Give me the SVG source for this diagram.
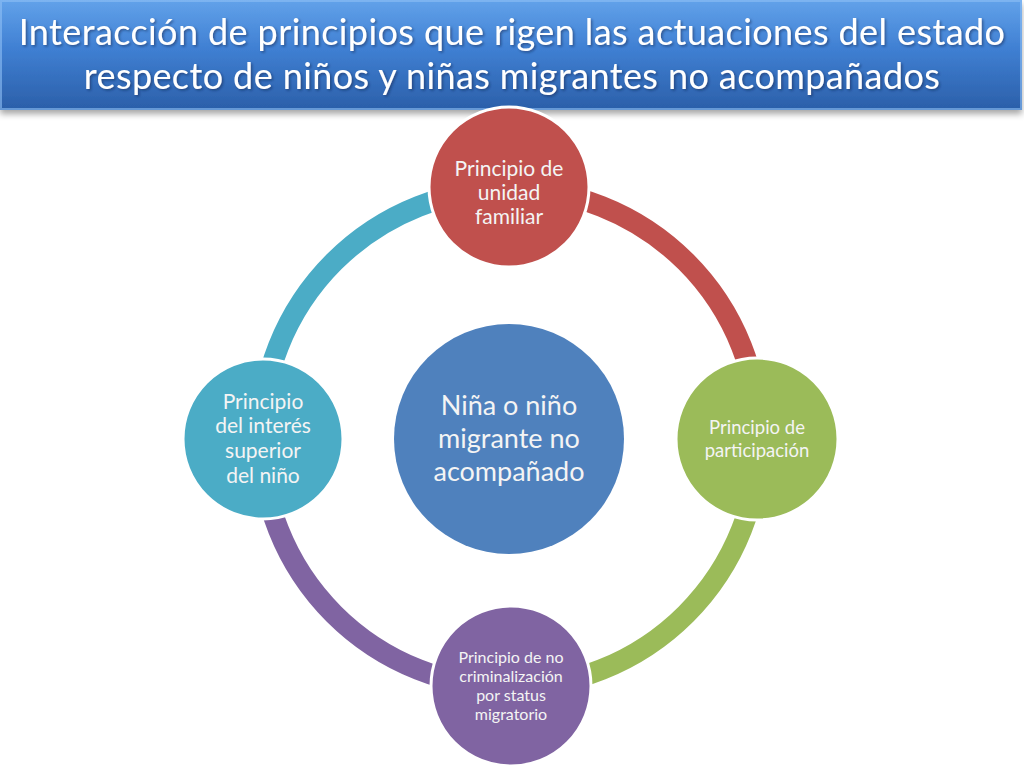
<svg xmlns="http://www.w3.org/2000/svg" width="1024" height="768" viewBox="0 0 1024 768">
  <defs>
    <linearGradient id="bannerGrad" x1="0" y1="0" x2="0" y2="1">
      <stop offset="0" stop-color="#62a2ea"/>
      <stop offset="0.45" stop-color="#3f7fd2"/>
      <stop offset="1" stop-color="#2b5fa9"/>
    </linearGradient>
    <filter id="bannerShadow" x="-5%" y="-20%" width="110%" height="150%">
      <feDropShadow dx="0" dy="4" stdDeviation="3" flood-color="#000" flood-opacity="0.35"/>
    </filter>
    <filter id="textShadow" x="-5%" y="-20%" width="110%" height="150%">
      <feDropShadow dx="1.5" dy="1.5" stdDeviation="1" flood-color="#0a2346" flood-opacity="0.5"/>
    </filter>
    <style>
      .title { font-family: Lato, "Liberation Sans", sans-serif; font-size: 36px; fill: #ffffff; text-anchor: middle; letter-spacing: 0.4px; }
      .lbl { font-family: Lato, "Liberation Sans", sans-serif; fill: #f4f4f4; text-anchor: middle; }
      .arc { fill: none; stroke-width: 21; }
      .node { stroke: #ffffff; stroke-width: 3; }
    </style>
  </defs>
  <rect width="1024" height="768" fill="#ffffff"/>

  <g id="title">
    <rect x="0" y="0" width="1022" height="110" fill="url(#bannerGrad)" filter="url(#bannerShadow)"/>
    <rect x="1" y="1" width="1020" height="108" fill="none" stroke="#8fc0f5" stroke-opacity="0.6" stroke-width="2"/>
    <g filter="url(#textShadow)">
      <text class="title" x="512" y="45">Interacción de principios que rigen las actuaciones del estado</text>
      <text class="title" x="512" y="89">respecto de niños y niñas migrantes no acompañados</text>
    </g>
  </g>

  <g id="connectors">
    <path class="arc" stroke="#c0504d" d="M 510 189 A 249 249 0 0 1 759 438"/>
    <path class="arc" stroke="#9bbb59" d="M 759 438 A 249 249 0 0 1 510 687"/>
    <path class="arc" stroke="#8064a2" d="M 510 687 A 249 249 0 0 1 261 438"/>
    <path class="arc" stroke="#4bacc6" d="M 261 438 A 249 249 0 0 1 510 189"/>
  </g>

  <g id="center">
    <circle cx="509" cy="439" r="115" fill="#4f81bd"/>
    <text class="lbl" font-size="27" x="509" y="415">Niña o niño</text>
    <text class="lbl" font-size="27" x="509" y="448">migrante no</text>
    <text class="lbl" font-size="27" x="509" y="481">acompañado</text>
  </g>

  <g id="node-top">
    <circle class="node" cx="509" cy="187" r="80" fill="#c0504d"/>
    <text class="lbl" font-size="21" x="509" y="176">Principio de</text>
    <text class="lbl" font-size="21" x="509" y="200">unidad</text>
    <text class="lbl" font-size="21" x="509" y="224">familiar</text>
  </g>

  <g id="node-right">
    <circle class="node" cx="757" cy="439" r="81" fill="#9bbb59"/>
    <text class="lbl" font-size="18.5" x="757" y="434">Principio de</text>
    <text class="lbl" font-size="18.5" x="757" y="457">participación</text>
  </g>

  <g id="node-bottom">
    <circle class="node" cx="511" cy="686" r="80" fill="#8064a2"/>
    <text class="lbl" font-size="16" x="511" y="663">Principio de no</text>
    <text class="lbl" font-size="16" x="511" y="682">criminalización</text>
    <text class="lbl" font-size="16" x="511" y="701">por status</text>
    <text class="lbl" font-size="16" x="511" y="720">migratorio</text>
  </g>

  <g id="node-left">
    <circle class="node" cx="263" cy="439" r="80" fill="#4bacc6"/>
    <text class="lbl" font-size="21" x="263" y="409">Principio</text>
    <text class="lbl" font-size="21" x="263" y="433">del interés</text>
    <text class="lbl" font-size="21" x="263" y="458">superior</text>
    <text class="lbl" font-size="21" x="263" y="483">del niño</text>
  </g>
</svg>
